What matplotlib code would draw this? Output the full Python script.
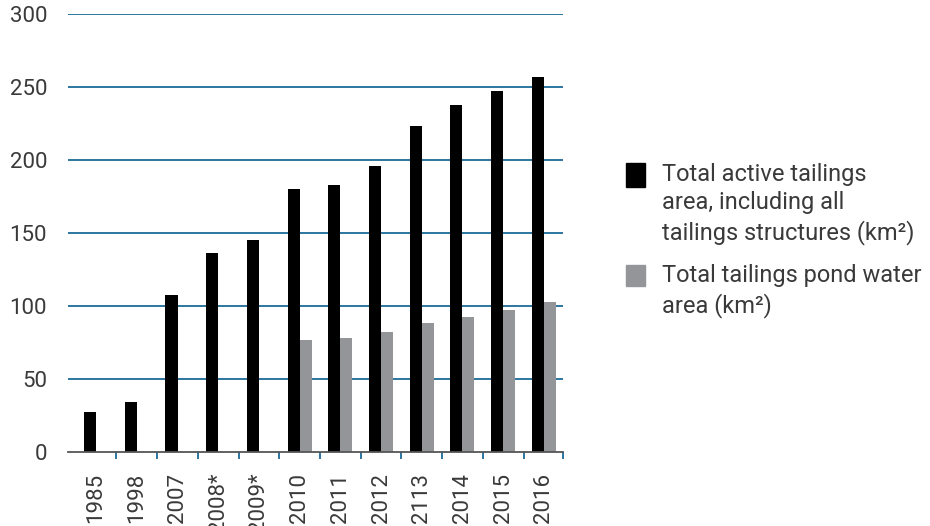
import matplotlib.pyplot as plt
import matplotlib.patches as mpatches
import numpy as np

plt.rcParams['font.family'] = ['Roboto', 'DejaVu Sans']

years = ['1985', '1998', '2007', '2008*', '2009*', '2010', '2011', '2012',
         '2113', '2014', '2015', '2016']
active_area = [27.4, 34.2, 107.5, 136.3, 145.2, 180.1, 182.9, 195.9,
               223.3, 237.7, 247.3, 256.8]
pond_area = [0, 0, 0, 0, 0, 76.7, 78.1, 82.2, 88.4, 92.5, 97.3, 102.7]
yticks = [0, 50, 100, 150, 200, 250, 300]

label_active = 'Total active tailings\narea, including all\ntailings structures (km²)'
label_pond = 'Total tailings pond water\narea (km²)'

text_color = '#3a3a3a'
grid_color = '#1b6b97'
black = '#000000'
gray = '#939598'

W, H = 930, 526
fig = plt.figure(figsize=(W / 100, H / 100), dpi=100)
ax = fig.add_axes([68 / W, 1 - 452 / H, (563 - 68) / W, (452 - 14) / H])

x = np.arange(len(years))
w = 0.295
ax.bar(x - w / 2, active_area, width=w, color=black, zorder=3)
ax.bar(x + w / 2, pond_area, width=w, color=gray, zorder=3)

ax.set_xlim(-0.69, 11.47)
ax.set_ylim(0, 300)

for v in yticks[1:]:
    ax.axhline(v, color=grid_color, lw=1.3, zorder=1)

for s in ['top', 'right', 'left']:
    ax.spines[s].set_visible(False)
ax.spines['bottom'].set_color('#555555')
ax.spines['bottom'].set_linewidth(1.3)
ax.spines['bottom'].set_zorder(4)

ax.set_yticks(yticks)
ax.set_yticklabels([str(v) for v in yticks], fontsize=16, color=text_color)
ax.tick_params(axis='y', length=0, pad=15)

ax.set_xticks(x)
ax.set_xticklabels(years, rotation=90, fontsize=16, color=text_color)
ax.tick_params(axis='x', which='major', length=0, pad=15)
ax.set_xticks(list(np.arange(len(years) - 1) + 0.5) + [11.47], minor=True)
ax.tick_params(axis='x', which='minor', length=5, width=1.3,
               color=grid_color, direction='out')

# legend
fig.patches.append(mpatches.Rectangle((626 / W, 1 - 187 / H), 19 / W, 24 / H,
                                      color=black, transform=fig.transFigure))
fig.patches.append(mpatches.Rectangle((626 / W, 1 - 286 / H), 19 / W, 21 / H,
                                      color=gray, transform=fig.transFigure))
fig.text(662 / W, 1 - 163 / H, label_active, fontsize=17, color=text_color,
         va='top', ha='left', linespacing=1.3)
fig.text(662 / W, 1 - 264 / H, label_pond, fontsize=17, color=text_color,
         va='top', ha='left', linespacing=1.3)

fig.savefig('out.png', dpi=100)
